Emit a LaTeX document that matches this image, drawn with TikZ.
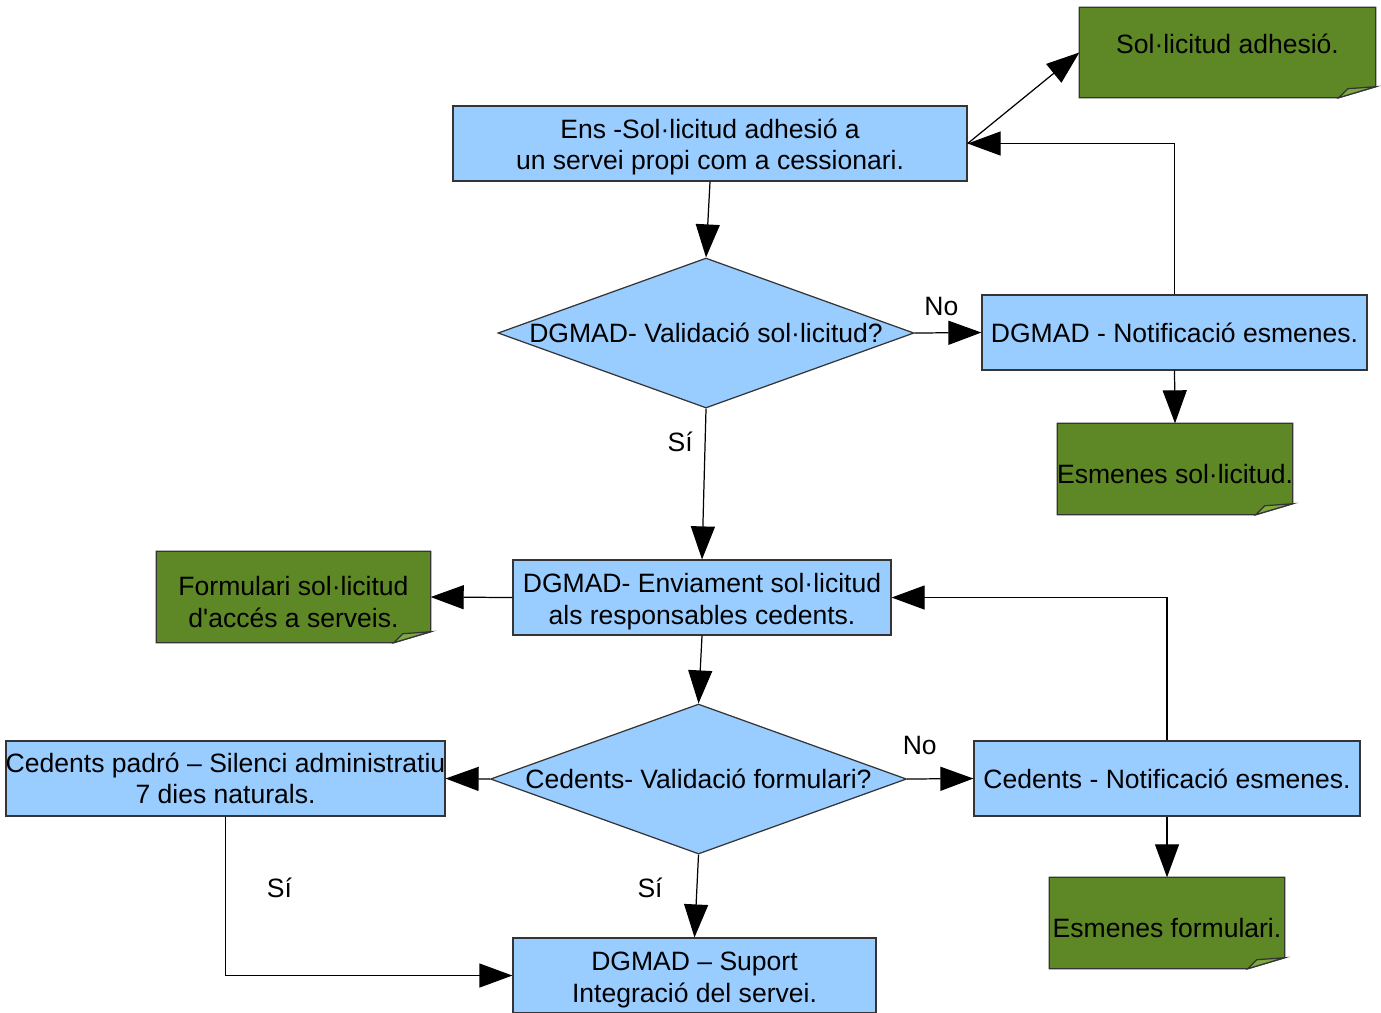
\documentclass[tikz,border=0pt]{standalone}
\usepackage{fontspec}
\setmainfont{Liberation Sans}
\usepackage{tikz}
\usetikzlibrary{calc}
\usetikzlibrary{arrows.meta}
\usetikzlibrary{positioning}
\usetikzlibrary{shapes.geometric}
\usetikzlibrary{backgrounds}
\definecolor{skyblue}{RGB}{153, 204, 255}
\definecolor{leafgreen}{RGB}{94, 135, 38}
\definecolor{leaffold}{RGB}{125, 168, 66}
\definecolor{edgegray}{RGB}{52, 52, 52}
\tikzset{
    every node/.style={font=\fontsize{7.55pt}{8.9pt}\selectfont},
    bluebox/.style={rectangle, draw=edgegray, fill=skyblue, line width=0.35pt, inner sep=0pt, align=center},
    docbox/.style={rectangle, inner sep=0pt, align=center},
    decision/.style={diamond, draw=edgegray, fill=skyblue, line width=0.35pt, inner sep=0pt,
                     minimum width=4.16cm, minimum height=1.5cm},
    flow/.style={line width=0.35pt, -{Triangle[length=3.3mm, width=2.4mm]}},
}

\begin{document}
\begin{tikzpicture}
            % Frame
            \useasboundingbox (0.00, 0.00) rectangle (13.81, -10.12);
            % Request
            \node[bluebox, minimum width=5.14cm, minimum height=0.75cm] (ens) at ( 7.100,-1.435)
                 {\rule{0pt}{2.64mm}Ens -Sol·licitud adhesió a\\un servei propi com a cessionari.};
            \node[docbox,  minimum width=2.95cm, minimum height=0.89cm] (adh) at (12.275,-0.525)
                 {\raisebox{1.8mm}{Sol·licitud adhesió.}};
            \node[decision]                                            (val1) at ( 7.060,-3.330)
                 {\makebox[0pt]{DGMAD- Validació sol·licitud?}};
            \node[bluebox, minimum width=3.85cm, minimum height=0.75cm] (notif1) at (11.745,-3.325)
                 {DGMAD - Notificació esmenes.};
            \node[docbox,  minimum width=2.34cm, minimum height=0.90cm] (esm1) at (11.750,-4.690)
                 {\rule{0pt}{2.94mm}\makebox[0pt]{Esmenes sol·licitud.}};
            % Sending to the cedents
            \node[bluebox, minimum width=3.78cm, minimum height=0.75cm] (env) at ( 7.020,-5.975)
                 {\rule{0pt}{2.74mm}DGMAD- Enviament sol·licitud\\als responsables cedents.};
            \node[docbox,  minimum width=2.73cm, minimum height=0.90cm] (form) at ( 2.935,-5.970)
                 {\rule{0pt}{2.94mm}Formulari sol·licitud\\d\textquotesingle accés a serveis.};
            \node[decision]                                            (val2) at ( 6.985,-7.790)
                 {\makebox[0pt]{Cedents- Validació formulari?}};
            \node[bluebox, minimum width=4.39cm, minimum height=0.75cm] (cp) at ( 2.255,-7.785)
                 {\makebox[0pt]{Cedents padró – Silenci administratiu}\\7 dies naturals.};
            \node[bluebox, minimum width=3.86cm, minimum height=0.75cm] (notif2) at (11.670,-7.785)
                 {Cedents - Notificació esmenes.};
            \node[docbox,  minimum width=2.34cm, minimum height=0.90cm] (esm2) at (11.670,-9.230)
                 {\rule{0pt}{2.94mm}\makebox[0pt]{Esmenes formulari.}};
            \node[bluebox, minimum width=3.63cm, minimum height=0.75cm] (sup) at ( 6.945,-9.755)
                 {\rule{0pt}{2.74mm}DGMAD – Suport\\Integració del servei.};
            % Documents with folded corner
            \begin{scope}[on background layer, line join=round]
                \foreach \d in {adh, esm1, form, esm2} {
                    \filldraw[draw=edgegray, fill=leafgreen, line width=0.35pt]
                        (\d.north west) -- (\d.north east) -- ([yshift=1.1mm]\d.south east)
                        -- ([xshift=-3.7mm]\d.south east) -- (\d.south west) -- cycle;
                    \filldraw[draw=edgegray, fill=leaffold, line width=0.35pt]
                        ([xshift=-3.7mm]\d.south east) -- ([xshift=-2.8mm, yshift=0.9mm]\d.south east)
                        -- ([yshift=1.1mm]\d.south east) -- cycle;
                }
            \end{scope}
            % Connectors
            \draw[flow] (ens.east)    -- (adh.west);
            \draw[flow] (notif1.north) |- (ens.east);
            \draw[flow] (ens.south)   -- (val1.north);
            \draw[flow] (val1.east)   -- (notif1.west) node[pos=0.40, above=0.5mm] {No};
            \draw[flow] (notif1.south) -- (esm1.north);
            \draw[flow] (val1.south)  -- (env.north)   node[pos=0.22, left=0mm] {Sí};
            \draw[flow] (env.west)    -- (form.east);
            \draw[flow] (env.south)   -- (val2.north);
            \draw[flow] (notif2.north) |- (env.east);
            \draw[flow] (val2.east)   -- (notif2.west) node[pos=0.19, above=1.2mm] {No};
            \draw[flow] (notif2.south) -- (esm2.north);
            \draw[flow] (val2.west)   -- (cp.east);
            \draw[flow] (val2.south)  -- (sup.north)   node[pos=0.40, left=2.2mm] {Sí};
            \draw[flow] (cp.south)    |- (sup.west)    node[pos=0.225, right=2.9mm] {Sí};
\end{tikzpicture}
\end{document}
